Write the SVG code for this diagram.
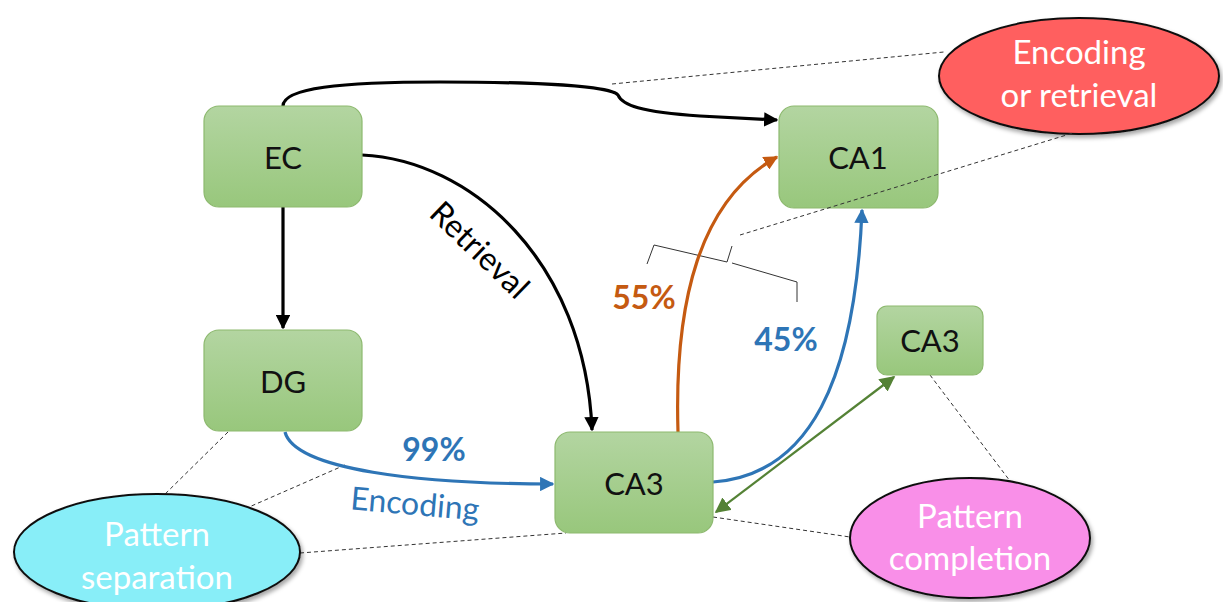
<svg xmlns="http://www.w3.org/2000/svg" width="1223" height="602" viewBox="0 0 1223 602">
<style>
.node{fill:url(#gg);stroke:#8db96f;stroke-width:1.2}
.nt{font-family:Lato,"Liberation Sans",sans-serif;font-size:31px;fill:#111;text-anchor:middle}
.et{font-family:Lato,"Liberation Sans",sans-serif;font-size:33px;fill:#fff;text-anchor:middle}
.ell{stroke:#111;stroke-width:2;filter:url(#sh)}
.dash{fill:none;stroke:#333;stroke-width:1;stroke-dasharray:4,3}
.c{fill:none;stroke-width:3.2}
.lbl{font-family:Lato,"Liberation Sans",sans-serif;font-size:32px;text-anchor:middle}
</style>
<defs>
<linearGradient id="gg" x1="0" y1="0" x2="0" y2="1"><stop offset="0" stop-color="#b3d5a1"/><stop offset="1" stop-color="#98c77c"/></linearGradient>
<filter id="sh" x="-10%" y="-10%" width="125%" height="130%"><feDropShadow dx="2" dy="3" stdDeviation="2" flood-color="#000" flood-opacity="0.35"/></filter>
<marker id="ak" viewBox="0 0 10 10" refX="9" refY="5" markerWidth="4.5" markerHeight="4.5" orient="auto"><path d="M0,0L10,5L0,10z" fill="#000"/></marker>
<marker id="ab" viewBox="0 0 10 10" refX="9" refY="5" markerWidth="4.5" markerHeight="4.5" orient="auto"><path d="M0,0L10,5L0,10z" fill="#2e75b6"/></marker>
<marker id="ao" viewBox="0 0 10 10" refX="9" refY="5" markerWidth="4.5" markerHeight="4.5" orient="auto"><path d="M0,0L10,5L0,10z" fill="#c55a11"/></marker>
<marker id="ag" viewBox="0 0 10 10" refX="9" refY="5" markerWidth="7" markerHeight="7" orient="auto-start-reverse"><path d="M0,0L10,5L0,10z" fill="#548235"/></marker>
</defs>
<rect width="1223" height="602" fill="#fff"/>
<g id="dashes">
<path class="dash" d="M612,84 L944,52"/>
<path class="dash" d="M228,432 L157,502"/>
<path class="dash" d="M345,465 L240,511"/>
<path class="dash" d="M300,553 L566,533"/>
<path class="dash" d="M713,517 L850,537"/>
<path class="dash" d="M930,375 L1010,481"/>
<path fill="none" stroke="#333" stroke-width="1" d="M647,264 L654,245 L727,262 L732,246 M732,263 L797,282 L797,302"/>
</g>
<g id="connectors">
<path class="c" stroke="#000" marker-end="url(#ak)" d="M283,106 C283,88 340,82 440,82 C540,82 610,86 618,95 C622,105 640,112 700,116 L777,120"/>
<path class="c" stroke="#000" marker-end="url(#ak)" d="M362,155 C470,160 585,260 592,430"/>
<path class="c" stroke="#000" marker-end="url(#ak)" d="M283,207 L283,328"/>
<path class="c" stroke="#2e75b6" marker-end="url(#ab)" d="M285,432 C295,470 420,484 553,484"/>
<path class="c" stroke="#c55a11" marker-end="url(#ao)" d="M678,432 C674,300 700,200 777,157"/>
<path class="c" stroke="#2e75b6" marker-end="url(#ab)" d="M713,482 C810,475 855,380 862,210"/>
<path fill="none" stroke="#548235" stroke-width="2.2" marker-start="url(#ag)" marker-end="url(#ag)" d="M716,512 L894,377"/>
<text class="lbl" fill="#000" transform="translate(472,258) rotate(44)">Retrieval</text>
<text class="lbl" fill="#c55a11" font-weight="bold" x="644" y="309">55%</text>
<text class="lbl" fill="#2e75b6" font-weight="bold" x="786" y="351">45%</text>
<text class="lbl" fill="#2e75b6" font-weight="bold" x="434" y="461">99%</text>
<text class="lbl" fill="#2e75b6" transform="translate(414,515) rotate(5)">Encoding</text>
</g>
<g id="EC"><rect class="node" x="204" y="106" width="158" height="101" rx="15"/><text class="nt" x="283" y="169">EC</text></g>
<g id="CA1"><rect class="node" x="779" y="106" width="159" height="102" rx="15"/><text class="nt" x="858" y="169">CA1</text></g>
<g id="DG"><rect class="node" x="204" y="330" width="158" height="101" rx="15"/><text class="nt" x="283" y="393">DG</text></g>
<g id="CA3"><rect class="node" x="555" y="432" width="158" height="101" rx="15"/><text class="nt" x="634" y="495">CA3</text></g>
<g id="CA3b"><rect class="node" x="877" y="306" width="106" height="69" rx="10"/><text class="nt" x="930" y="352">CA3</text></g>
<g id="enc"><ellipse class="ell" cx="1079" cy="76" rx="140" ry="58" fill="#ff5f5f"/><text class="et" x="1079" y="64">Encoding</text><text class="et" x="1079" y="107">or retrieval</text></g>
<g id="sep"><ellipse class="ell" cx="157" cy="552" rx="143" ry="58" fill="#88eef8"/><text class="et" x="157" y="546">Pattern</text><text class="et" x="157" y="589">separation</text></g>
<g id="comp"><ellipse class="ell" cx="970" cy="538" rx="120" ry="60" fill="#f98fe8"/><text class="et" x="970" y="528">Pattern</text><text class="et" x="970" y="570">completion</text></g>
<path class="dash" d="M740,235 L1073,133"/>
</svg>
